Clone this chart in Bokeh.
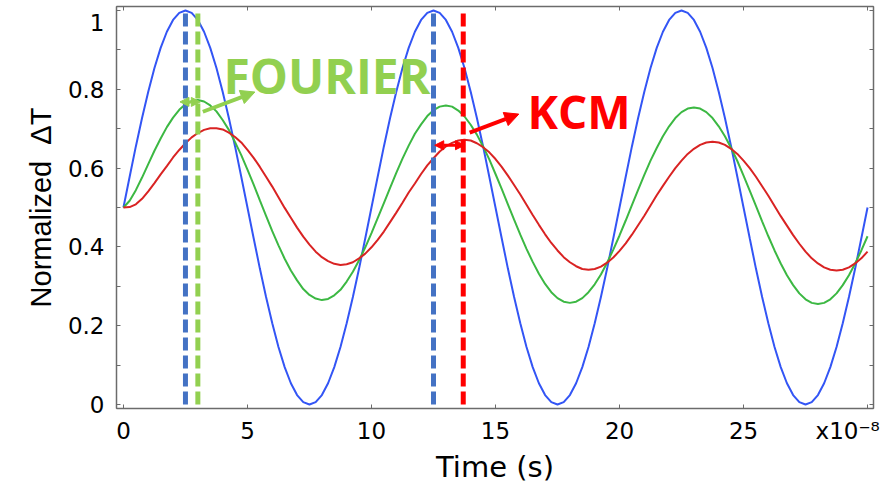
from bokeh.plotting import figure
from bokeh.models import Range1d, FixedTicker, LinearAxis, Label, Arrow, NormalHead
from bokeh.embed import file_html
from bokeh.resources import INLINE

# ---- data ----
time_step = 0.25  # x10^-8 s, sampling of the curves below
blue_signal = [
    0.500, 0.578, 0.655, 0.727, 0.794, 0.854, 0.905, 0.946, 0.976, 0.994,
    1.000, 0.994, 0.976, 0.946, 0.905, 0.854, 0.794, 0.727, 0.655, 0.578,
    0.500, 0.422, 0.345, 0.273, 0.206, 0.146, 0.095, 0.054, 0.024, 0.006,
    0.000, 0.006, 0.024, 0.054, 0.095, 0.146, 0.206, 0.273, 0.345, 0.422,
    0.500, 0.578, 0.655, 0.727, 0.794, 0.854, 0.905, 0.946, 0.976, 0.994,
    1.000, 0.994, 0.976, 0.946, 0.905, 0.854, 0.794, 0.727, 0.655, 0.578,
    0.500, 0.422, 0.345, 0.273, 0.206, 0.146, 0.095, 0.054, 0.024, 0.006,
    0.000, 0.006, 0.024, 0.054, 0.095, 0.146, 0.206, 0.273, 0.345, 0.422,
    0.500, 0.578, 0.655, 0.727, 0.794, 0.854, 0.905, 0.946, 0.976, 0.994,
    1.000, 0.994, 0.976, 0.946, 0.905, 0.854, 0.794, 0.727, 0.655, 0.578,
    0.500, 0.422, 0.345, 0.273, 0.206, 0.146, 0.095, 0.054, 0.024, 0.006,
    0.000, 0.006, 0.024, 0.054, 0.095, 0.146, 0.206, 0.273, 0.345, 0.422,
    0.500,
]
fourier_response = [
    0.500, 0.517, 0.544, 0.576, 0.610, 0.644, 0.675, 0.704, 0.728, 0.748,
    0.762, 0.770, 0.773, 0.769, 0.759, 0.744, 0.722, 0.697, 0.666, 0.633,
    0.596, 0.558, 0.518, 0.479, 0.440, 0.404, 0.370, 0.340, 0.315, 0.293,
    0.278, 0.269, 0.265, 0.268, 0.277, 0.291, 0.312, 0.337, 0.366, 0.399,
    0.435, 0.473, 0.511, 0.550, 0.588, 0.624, 0.657, 0.687, 0.711, 0.732,
    0.747, 0.756, 0.759, 0.756, 0.746, 0.731, 0.710, 0.685, 0.655, 0.622,
    0.585, 0.547, 0.508, 0.469, 0.431, 0.395, 0.362, 0.332, 0.306, 0.285,
    0.270, 0.261, 0.258, 0.261, 0.270, 0.285, 0.305, 0.330, 0.360, 0.393,
    0.429, 0.467, 0.506, 0.545, 0.583, 0.619, 0.651, 0.681, 0.706, 0.727,
    0.742, 0.751, 0.754, 0.751, 0.742, 0.727, 0.706, 0.681, 0.651, 0.618,
    0.581, 0.543, 0.504, 0.465, 0.427, 0.391, 0.358, 0.328, 0.303, 0.282,
    0.267, 0.258, 0.255, 0.258, 0.267, 0.282, 0.303, 0.328, 0.358, 0.391,
    0.427,
]
kcm_response = [
    0.500, 0.501, 0.508, 0.522, 0.541, 0.562, 0.584, 0.605, 0.627, 0.646,
    0.663, 0.678, 0.689, 0.697, 0.701, 0.701, 0.698, 0.690, 0.679, 0.665,
    0.646, 0.626, 0.603, 0.578, 0.553, 0.526, 0.499, 0.474, 0.449, 0.426,
    0.406, 0.388, 0.374, 0.364, 0.357, 0.354, 0.356, 0.361, 0.371, 0.383,
    0.399, 0.418, 0.439, 0.463, 0.487, 0.512, 0.538, 0.561, 0.585, 0.607,
    0.625, 0.642, 0.655, 0.664, 0.670, 0.672, 0.670, 0.663, 0.653, 0.640,
    0.623, 0.603, 0.581, 0.557, 0.533, 0.507, 0.481, 0.456, 0.432, 0.410,
    0.391, 0.374, 0.361, 0.351, 0.344, 0.342, 0.344, 0.350, 0.360, 0.373,
    0.390, 0.409, 0.431, 0.455, 0.479, 0.505, 0.531, 0.555, 0.578, 0.600,
    0.619, 0.636, 0.649, 0.659, 0.665, 0.667, 0.665, 0.659, 0.649, 0.636,
    0.619, 0.600, 0.578, 0.554, 0.530, 0.504, 0.478, 0.454, 0.430, 0.408,
    0.388, 0.371, 0.358, 0.348, 0.342, 0.340, 0.342, 0.348, 0.358, 0.371,
    0.388,
]
time = [i * time_step for i in range(len(blue_signal))]

marker_times = [2.5, 3.0, 12.5, 13.7]          # dashed vertical markers
marker_top = 1.0
x_tick_marks = [0, 5, 10, 15, 20, 25, 30]
x_label_pos = [0, 5, 10, 15, 20, 25, 29.2]
x_tick_labels = ["0", "5", "10", "15", "20", "25", "x10\u207b\u2078"]
y_tick_marks = [0, 0.1, 0.2, 0.3, 0.4, 0.5, 0.6, 0.7, 0.8, 0.9, 1.0]
y_label_pos = [0, 0.2, 0.4, 0.6, 0.8, 0.97]
y_tick_labels = ["0", "0.2", "0.4", "0.6", "0.8", "1"]

fourier_gap = (2.28, 3.1, 0.768)                # x_start, x_end, y
fourier_pointer = (3.2, 0.743, 5.3, 0.793)
kcm_gap = (12.55, 13.75, 0.658)
kcm_pointer = (13.96, 0.690, 15.94, 0.737)
fourier_text_pos = (4.03, 0.836)
kcm_text_pos = (16.29, 0.745)

# ---- styles ----
BLUE = "#3355f5"
GREEN = "#3cb843"
RED = "#d92323"
MARK_BLUE = "#4472C4"
MARK_GREEN = "#92D050"
MARK_RED = "#FF0000"
marker_colors = [MARK_BLUE, MARK_GREEN, MARK_BLUE, MARK_RED]
AXIS = "#6b6b6b"

p = figure(width=894, height=486, output_backend="svg", toolbar_location=None,
           x_range=Range1d(-0.28, 30.24), y_range=Range1d(-0.0101, 1.0101),
           min_border_left=116, min_border_right=21, min_border_top=6, min_border_bottom=77)
p.xgrid.visible = False
p.ygrid.visible = False
p.outline_line_color = AXIS
p.background_fill_color = "white"
p.border_fill_color = "white"

def style_axis(ax):
    ax.axis_line_color = AXIS
    ax.axis_line_width = 1.5
    ax.major_tick_line_color = AXIS
    ax.minor_tick_line_color = AXIS
    ax.major_tick_in = 0
    ax.major_tick_out = 0
    ax.minor_tick_in = 4
    ax.minor_tick_out = 0

xa = p.xaxis[0]
xa.ticker = FixedTicker(ticks=x_label_pos, minor_ticks=x_tick_marks)
xa.major_label_overrides = {t: l for t, l in zip(x_label_pos, x_tick_labels)}
style_axis(xa)
xa.major_label_text_font = "DejaVu Sans"
xa.major_label_text_font_size = "23px"
xa.major_label_text_color = "black"
xa.major_label_standoff = 9
xa.axis_label = "Time (s)"
xa.axis_label_text_font = "DejaVu Sans"
xa.axis_label_text_font_size = "29px"
xa.axis_label_text_font_style = "normal"
xa.axis_label_text_color = "black"
xa.axis_label_standoff = 3

ya = p.yaxis[0]
ya.ticker = FixedTicker(ticks=y_label_pos, minor_ticks=y_tick_marks)
ya.major_label_overrides = {t: l for t, l in zip(y_label_pos, y_tick_labels)}
style_axis(ya)
ya.major_label_text_font = "DejaVu Sans"
ya.major_label_text_font_size = "23px"
ya.major_label_text_color = "black"
ya.major_label_standoff = 12
ya.axis_label = "Normalized\u00a0\u00a0\u0394T"
ya.axis_label_text_font = "Liberation Sans"
ya.axis_label_text_font_size = "29px"
ya.axis_label_text_font_style = "normal"
ya.axis_label_text_color = "black"
ya.axis_label_standoff = 8

top = LinearAxis(ticker=FixedTicker(ticks=[], minor_ticks=x_tick_marks),
                 major_label_text_font_size="0px", major_label_standoff=0)
style_axis(top)
p.add_layout(top, "above")
right = LinearAxis(ticker=FixedTicker(ticks=[], minor_ticks=y_tick_marks),
                   major_label_text_font_size="0px", major_label_standoff=0)
style_axis(right)
p.add_layout(right, "right")

# curves
p.line(time, blue_signal, line_color=BLUE, line_width=2)
p.line(time, fourier_response, line_color=GREEN, line_width=2)
p.line(time, kcm_response, line_color=RED, line_width=2)

# dashed markers
p.segment(x0=marker_times, y0=[0] * len(marker_times), x1=marker_times,
          y1=[marker_top] * len(marker_times), line_color=marker_colors,
          line_width=5, line_dash="13 5")

def head(c, s):
    return NormalHead(size=s, fill_color=c, line_color=c)

p.add_layout(Arrow(start=head(MARK_GREEN, 9), end=head(MARK_GREEN, 9),
                   x_start=fourier_gap[0], x_end=fourier_gap[1],
                   y_start=fourier_gap[2], y_end=fourier_gap[2],
                   line_color=MARK_GREEN, line_width=3))
p.add_layout(Arrow(end=head(MARK_GREEN, 14),
                   x_start=fourier_pointer[0], y_start=fourier_pointer[1],
                   x_end=fourier_pointer[2], y_end=fourier_pointer[3],
                   line_color=MARK_GREEN, line_width=4))
p.add_layout(Arrow(start=head(MARK_RED, 9), end=head(MARK_RED, 9),
                   x_start=kcm_gap[0], x_end=kcm_gap[1],
                   y_start=kcm_gap[2], y_end=kcm_gap[2],
                   line_color=MARK_RED, line_width=3))
p.add_layout(Arrow(end=head(MARK_RED, 14),
                   x_start=kcm_pointer[0], y_start=kcm_pointer[1],
                   x_end=kcm_pointer[2], y_end=kcm_pointer[3],
                   line_color=MARK_RED, line_width=4))

p.add_layout(Label(x=fourier_text_pos[0], y=fourier_text_pos[1], text="FOURIER",
                   text_font="Open Sans", text_font_style="bold", text_font_size="48px",
                   text_color=MARK_GREEN, text_baseline="alphabetic"))
p.add_layout(Label(x=kcm_text_pos[0], y=kcm_text_pos[1], text="KCM",
                   text_font="Open Sans", text_font_style="bold", text_font_size="46px",
                   text_color=MARK_RED, text_baseline="alphabetic"))

open("out.html", "w").write(file_html(p, INLINE))
